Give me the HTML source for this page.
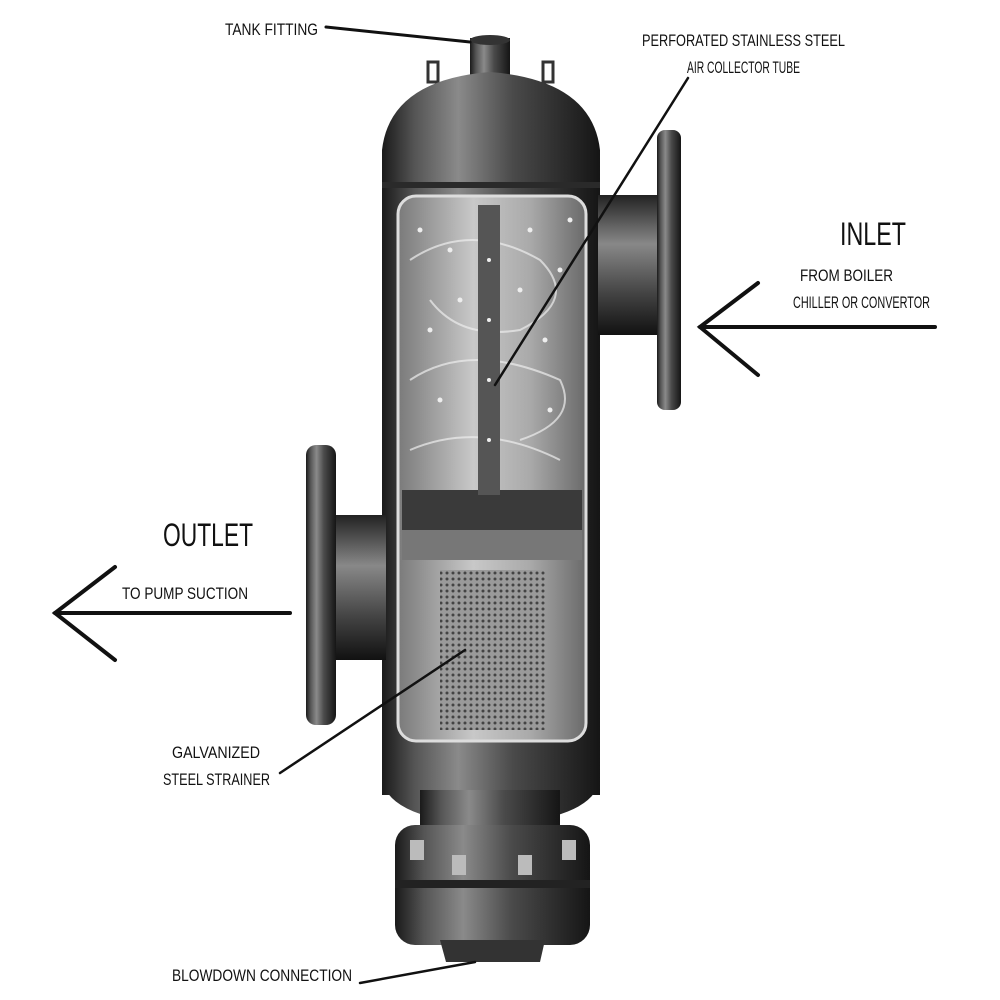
<!DOCTYPE html>
<html><head><meta charset="utf-8"><style>
html,body{margin:0;padding:0;background:#fff;}
svg{display:block}
text{font-family:"Liberation Sans",sans-serif;fill:#111}
</style></head><body>
<svg width="1000" height="1000" viewBox="0 0 1000 1000" xmlns="http://www.w3.org/2000/svg">
<defs>
<linearGradient id="body" x1="0" x2="1" y1="0" y2="0">
<stop offset="0" stop-color="#1a1a1a"/><stop offset="0.15" stop-color="#555"/><stop offset="0.35" stop-color="#8a8a8a"/><stop offset="0.6" stop-color="#4a4a4a"/><stop offset="1" stop-color="#151515"/>
</linearGradient>
<linearGradient id="pipeV" x1="0" x2="0" y1="0" y2="1">
<stop offset="0" stop-color="#222"/><stop offset="0.35" stop-color="#888"/><stop offset="0.7" stop-color="#444"/><stop offset="1" stop-color="#111"/>
</linearGradient>
<linearGradient id="win" x1="0" x2="1" y1="0" y2="0">
<stop offset="0" stop-color="#7a7a7a"/><stop offset="0.4" stop-color="#c8c8c8"/><stop offset="0.7" stop-color="#aaa"/><stop offset="1" stop-color="#6a6a6a"/>
</linearGradient>
<pattern id="mesh" width="6" height="6" patternUnits="userSpaceOnUse"><rect width="6" height="6" fill="#9a9a9a"/><circle cx="3" cy="3" r="1.5" fill="#444"/></pattern>
</defs>

<rect x="470" y="38" width="40" height="45" fill="url(#body)"/>
<ellipse cx="490" cy="40" rx="20" ry="5" fill="#333"/>
<rect x="428" y="62" width="10" height="20" fill="none" stroke="#333" stroke-width="3"/>
<rect x="543" y="62" width="10" height="20" fill="none" stroke="#333" stroke-width="3"/>
<path d="M382 190 L382 150 Q390 80 490 72 Q592 80 600 150 L600 190 Z" fill="url(#body)"/>
<rect x="382" y="185" width="218" height="610" fill="url(#body)"/>
<rect x="382" y="182" width="218" height="6" fill="#2a2a2a"/>
<path d="M382 780 Q390 820 490 825 Q592 820 600 780 Z" fill="url(#body)"/>
<rect x="598" y="195" width="65" height="140" fill="url(#pipeV)"/>
<rect x="657" y="130" width="24" height="280" rx="8" fill="url(#body)"/>
<rect x="330" y="515" width="56" height="145" fill="url(#pipeV)"/>
<rect x="306" y="445" width="30" height="280" rx="10" fill="url(#body)"/>
<rect x="398" y="196" width="188" height="545" rx="18" fill="url(#win)" stroke="#ddd" stroke-width="3"/>
<rect x="402" y="490" width="180" height="50" fill="#3a3a3a"/>
<rect x="402" y="530" width="180" height="30" fill="#777"/>
<rect x="440" y="570" width="105" height="160" fill="url(#mesh)"/>
<g fill="none" stroke="#eee" stroke-width="2" opacity="0.7">
<path d="M410 260 Q470 220 540 260 Q580 300 520 330 Q460 340 430 300"/>
<path d="M410 380 Q470 340 560 380 Q580 420 520 440"/>
<path d="M410 450 Q480 420 560 460"/>
</g>
<rect x="478" y="205" width="22" height="290" fill="#555"/>
<g fill="#eee">
<circle cx="420" cy="230" r="2.5"/><circle cx="450" cy="250" r="2.5"/><circle cx="530" cy="230" r="2.5"/><circle cx="560" cy="270" r="2.5"/><circle cx="430" cy="330" r="2.5"/><circle cx="545" cy="340" r="2.5"/><circle cx="460" cy="300" r="2.5"/><circle cx="520" cy="290" r="2.5"/><circle cx="570" cy="220" r="2.5"/><circle cx="440" cy="400" r="2.5"/><circle cx="550" cy="410" r="2.5"/><circle cx="489" cy="260" r="2"/><circle cx="489" cy="320" r="2"/><circle cx="489" cy="380" r="2"/><circle cx="489" cy="440" r="2"/>
</g>
<rect x="420" y="790" width="140" height="40" fill="url(#body)"/>
<rect x="395" y="825" width="195" height="120" rx="20" fill="url(#body)"/>
<rect x="395" y="880" width="195" height="8" fill="#222"/>
<g fill="#bbb"><rect x="410" y="840" width="14" height="20"/><rect x="452" y="855" width="14" height="20"/><rect x="518" y="855" width="14" height="20"/><rect x="562" y="840" width="14" height="20"/></g>
<path d="M440 940 L545 940 L540 962 L446 962 Z" fill="#333"/>

<g stroke="#111" stroke-width="3" fill="none" stroke-linecap="round">
<line x1="326" y1="27" x2="470" y2="42"/>
<line x1="688" y1="78" x2="495" y2="385" stroke-width="2.5"/>
<line x1="700" y1="327" x2="935" y2="327" stroke-width="4"/>
<polyline points="758,283 700,327 758,375" stroke-width="4"/>
<line x1="55" y1="613" x2="290" y2="613" stroke-width="4"/>
<polyline points="115,567 55,613 115,660" stroke-width="4"/>
<line x1="280" y1="773" x2="465" y2="650" stroke-width="2.5"/>
<line x1="360" y1="983" x2="475" y2="962" stroke-width="2.5"/>
</g>
<g lengthAdjust="spacingAndGlyphs">
<text x="225" y="35" font-size="17" textLength="93" lengthAdjust="spacingAndGlyphs">TANK FITTING</text>
<text x="642" y="46" font-size="17" textLength="203" lengthAdjust="spacingAndGlyphs">PERFORATED STAINLESS STEEL</text>
<text x="687" y="73" font-size="17" textLength="113" lengthAdjust="spacingAndGlyphs">AIR COLLECTOR TUBE</text>
<text x="840" y="245" font-size="32" textLength="66" lengthAdjust="spacingAndGlyphs">INLET</text>
<text x="800" y="281" font-size="17" textLength="93" lengthAdjust="spacingAndGlyphs">FROM BOILER</text>
<text x="793" y="308" font-size="17" textLength="137" lengthAdjust="spacingAndGlyphs">CHILLER OR CONVERTOR</text>
<text x="163" y="546" font-size="32" textLength="90" lengthAdjust="spacingAndGlyphs">OUTLET</text>
<text x="122" y="599" font-size="17" textLength="126" lengthAdjust="spacingAndGlyphs">TO PUMP SUCTION</text>
<text x="172" y="758" font-size="17" textLength="88" lengthAdjust="spacingAndGlyphs">GALVANIZED</text>
<text x="163" y="785" font-size="17" textLength="107" lengthAdjust="spacingAndGlyphs">STEEL STRAINER</text>
<text x="172" y="981" font-size="17" textLength="180" lengthAdjust="spacingAndGlyphs">BLOWDOWN CONNECTION</text>
</g>
</svg>
</body></html>
